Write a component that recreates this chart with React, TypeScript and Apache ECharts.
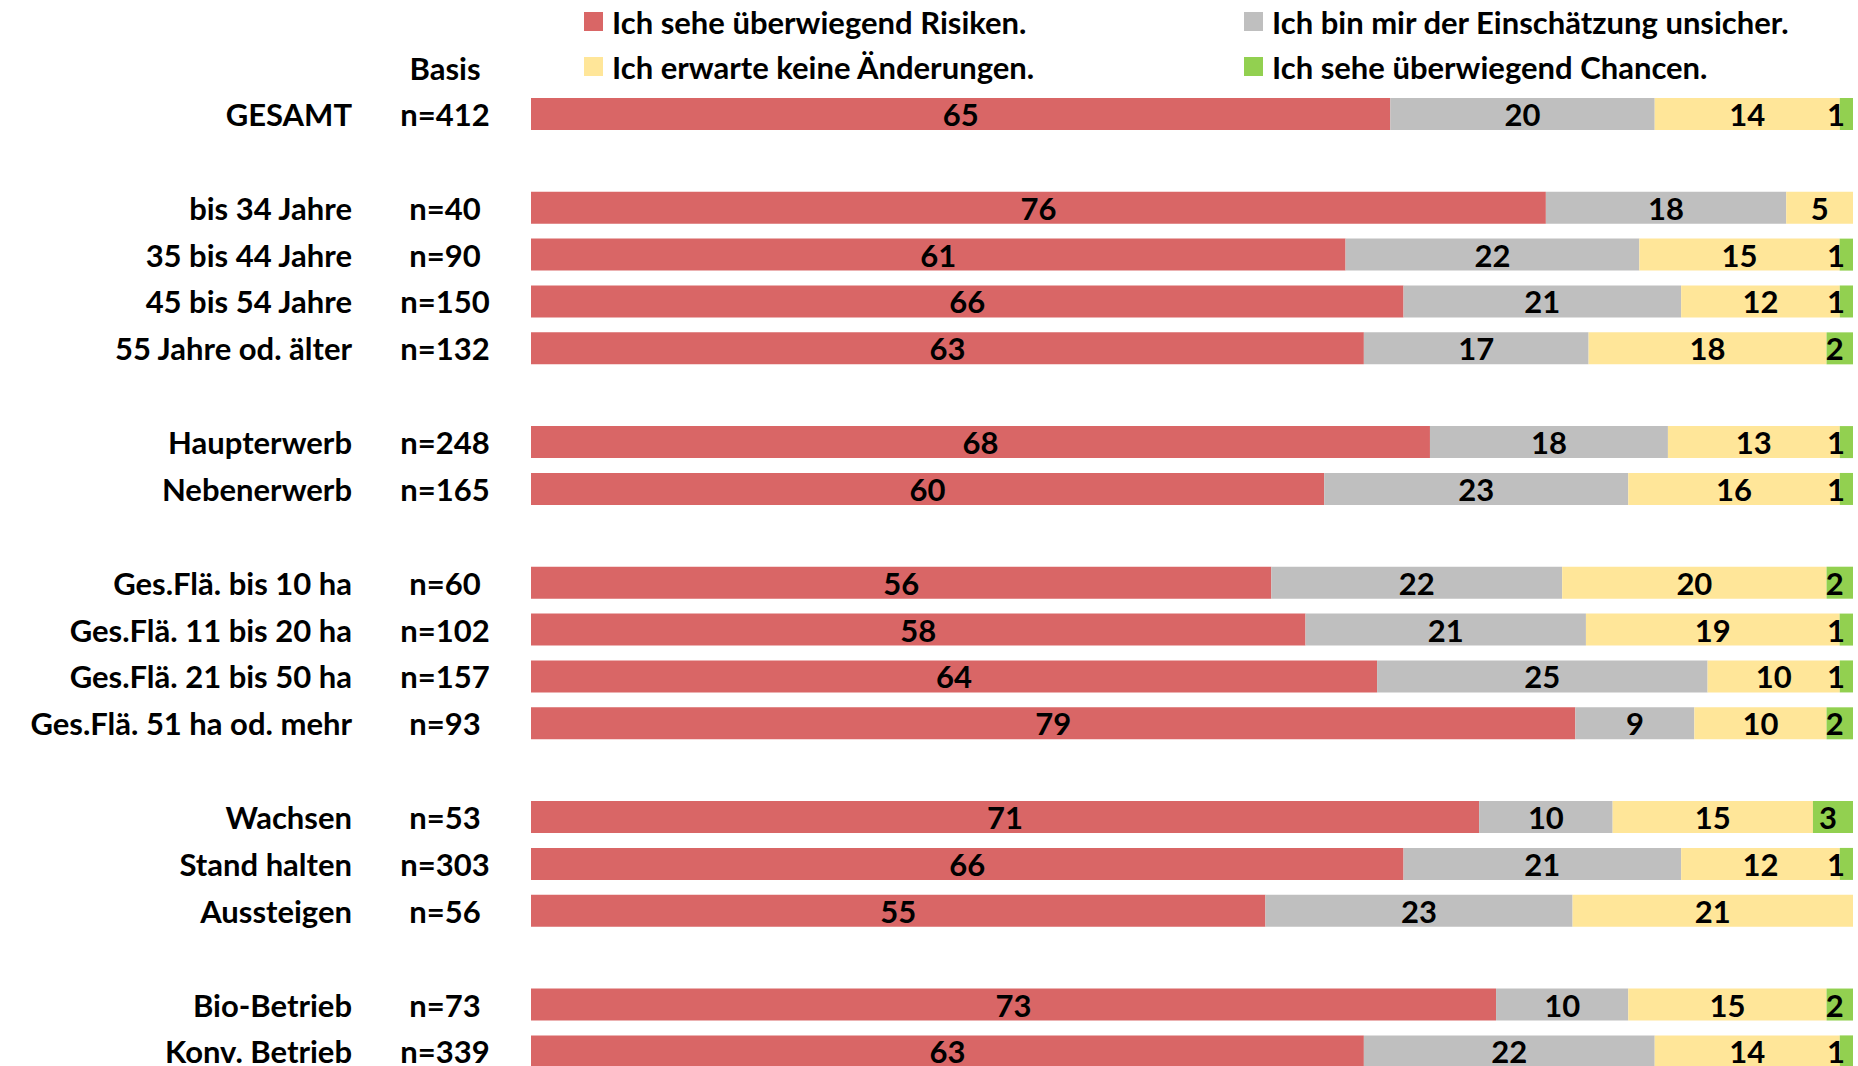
import React, { useEffect, useRef } from "react";
import * as echarts from "echarts";

const categories = [
  "GESAMT", "", "bis 34 Jahre", "35 bis 44 Jahre", "45 bis 54 Jahre", "55 Jahre od. älter", "",
  "Haupterwerb", "Nebenerwerb", "", "Ges.Flä. bis 10 ha", "Ges.Flä. 11 bis 20 ha",
  "Ges.Flä. 21 bis 50 ha", "Ges.Flä. 51 ha od. mehr", "", "Wachsen", "Stand halten", "Aussteigen", "",
  "Bio-Betrieb", "Konv. Betrieb",
];
const basis = [
  "n=412", "", "n=40", "n=90", "n=150", "n=132", "", "n=248", "n=165", "", "n=60", "n=102",
  "n=157", "n=93", "", "n=53", "n=303", "n=56", "", "n=73", "n=339",
];
const seriesNames = [
  "Ich sehe überwiegend Risiken.",
  "Ich bin mir der Einschätzung unsicher.",
  "Ich erwarte keine Änderungen.",
  "Ich sehe überwiegend Chancen.",
];
const risiken = [65, null, 76, 61, 66, 63, null, 68, 60, null, 56, 58, 64, 79, null, 71, 66, 55, null, 73, 63];
const unsicher = [20, null, 18, 22, 21, 17, null, 18, 23, null, 22, 21, 25, 9, null, 10, 21, 23, null, 10, 22];
const keine = [14, null, 5, 15, 12, 18, null, 13, 16, null, 20, 19, 10, 10, null, 15, 12, 21, null, 15, 14];
const chancen = [1, null, 0, 1, 1, 2, null, 1, 1, null, 2, 1, 1, 2, null, 3, 1, 0, null, 2, 1];
const colors = ["#D96666", "#BFBFBF", "#FFE699", "#92D050"];

const FONT = "Lato";
const FS = 31;

export default function App() {
  const ref = useRef<HTMLDivElement>(null);
  useEffect(() => {
    if (!ref.current) return;
    const chart = echarts.init(ref.current, undefined, { renderer: "svg" });
    const raw = [risiken, unsicher, keine, chancen];
    const totals = categories.map((_, i) =>
      raw.reduce((s, arr) => s + (arr[i] == null ? 0 : (arr[i] as number)), 0)
    );
    const gridLeft = 531;
    const gridWidth = 1322;
    const slot = 46.87;
    const top = 114 - slot / 2;
    const series = raw.map((arr, si) => ({
      name: seriesNames[si],
      type: "bar",
      stack: "total",
      barWidth: 32,
      yAxisIndex: 0,
      itemStyle: { color: colors[si] },
      label: {
        show: true,
        position: "inside",
        color: "#000",
        fontFamily: FONT,
        fontWeight: "bold",
        fontSize: FS,
        formatter: (p: any) => {
          const v = arr[p.dataIndex];
          return v == null || v === 0 ? "" : String(v);
        },
      },
      data: arr.map((v, i) => {
        if (v == null) return null;
        const share = (v / totals[i]) * 100;
        if (si !== raw.length - 1) return share;
        // last segment: keep the label inside the plot area like the original
        const segCenter = gridLeft + ((100 - share / 2) / 100) * gridWidth;
        const dx = Math.min(-5, gridLeft + gridWidth - 17 - segCenter);
        return { value: share, label: { offset: [dx, 0] } };
      }),
    }));
    const legendCommon = {
      orient: "vertical",
      top: 6,
      padding: 0,
      itemWidth: 19,
      itemHeight: 19,
      itemGap: 14,
      icon: "rect",
      textStyle: {
        color: "#000",
        fontFamily: FONT,
        fontWeight: "bold",
        fontSize: FS,
        lineHeight: 30,
        padding: [0, 0, 0, 4],
      },
    };
    chart.setOption({
      animation: false,
      backgroundColor: "#fff",
      grid: { left: gridLeft, top, width: gridWidth, height: slot * categories.length },
      xAxis: { type: "value", min: 0, max: 100, show: false },
      yAxis: [
        {
          type: "category",
          inverse: true,
          data: categories,
          axisLine: { show: false },
          axisTick: { show: false },
          axisLabel: {
            margin: 179,
            color: "#000",
            fontFamily: FONT,
            fontWeight: "bold",
            fontSize: FS,
            interval: 0,
          },
        },
        {
          type: "category",
          inverse: true,
          position: "left",
          data: basis,
          axisLine: { show: false },
          axisTick: { show: false },
          axisLabel: {
            margin: 86,
            align: "center",
            color: "#000",
            fontFamily: FONT,
            fontWeight: "bold",
            fontSize: FS,
            interval: 0,
          },
        },
      ],
      legend: [
        { ...legendCommon, left: 584, data: [seriesNames[0], seriesNames[2]] },
        { ...legendCommon, left: 1244, data: [seriesNames[1], seriesNames[3]] },
      ],
      graphic: [
        {
          type: "text",
          x: 445,
          y: 67.5,
          style: {
            text: "Basis",
            fill: "#000",
            font: `bold ${FS}px ${FONT}`,
            textAlign: "center",
            textVerticalAlign: "middle",
          },
        },
      ],
      series,
    });
    return () => chart.dispose();
  }, []);
  return (
    <div
      ref={ref}
      style={{ position: "fixed", left: 0, top: 0, width: 1858, height: 1090, background: "#fff" }}
    />
  );
}
